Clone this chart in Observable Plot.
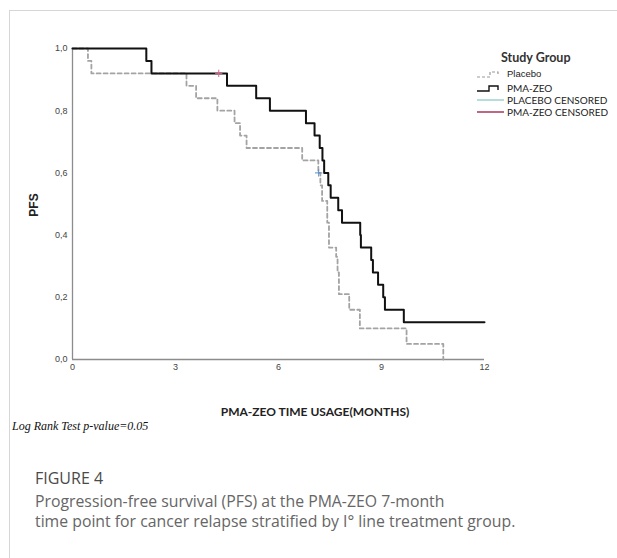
<!DOCTYPE html>
<html>
<head>
<meta charset="utf-8">
<script src="https://cdn.jsdelivr.net/npm/d3@7"></script>
<script src="https://cdn.jsdelivr.net/npm/@observablehq/plot@0.6"></script>
<style>
  html, body { margin: 0; padding: 0; background: #fff; }
  #wrap { position: relative; width: 617px; height: 558px; overflow: hidden; }
  #frame { position: absolute; left: 9px; top: 10px; width: 700px; height: 700px;
           border-left: 1px solid #d6d6d6; border-top: 1px solid #d6d6d6; }
  #chart { position: absolute; left: 0; top: 0; }
  .abs { position: absolute; white-space: nowrap; }
  #legend { position: absolute; left: 476px; top: 50px; width: 140px; height: 72px; font-family: Lato, "Open Sans", sans-serif; color: #222; }
  #legend .title { position: absolute; left: 25px; top: 0; font-weight: 700; font-size: 12.5px; color: #333; white-space: nowrap; }
  #legend .row { position: absolute; left: 0; height: 10px; line-height: 10px; display: flex; align-items: center; font-size: 10px; white-space: nowrap; }
  #legend .row span { line-height: 10px; }
  #legend .row svg { width: 29px; height: 10px; margin-right: 2px; flex: none; }
</style>
</head>
<body>
<div id="wrap">
  <div id="frame"></div>
  <div id="chart"></div>
  <div id="legend"></div>
  <div class="abs" style="left:34px; top:205px; transform: translate(-50%,-50%) rotate(-90deg); font: bold 12px 'Liberation Sans', Arial, sans-serif; color:#222;">PFS</div>
  <div class="abs" style="left:315px; top:404px; transform: translateX(-50%); font: bold 12px Lato, 'Open Sans', sans-serif; color:#222;">PMA-ZEO TIME USAGE(MONTHS)</div>
  <div class="abs" style="left:12px; top:419px; font: italic 12px 'Liberation Serif', 'Times New Roman', serif; color:#111;">Log Rank Test p-value=0.05</div>
  <div class="abs" style="left:35px; top:467px; font: 16px 'Open Sans', sans-serif; color:#4a4a4a;">FIGURE 4</div>
  <div class="abs" style="left:35px; top:491px; font: 15.8px/20px 'Open Sans', sans-serif; color:#666;">Progression-free survival (PFS) at the PMA-ZEO 7-month<br>time point for cancer relapse stratified by I° line treatment group.</div>
</div>
<script>
// ---- data ----
const groups = ["Placebo", "PMA-ZEO"];

const placeboTime = [0, 0.45, 0.55, 3.32, 3.6, 4.22, 4.72, 4.88, 5.07, 6.69, 7.16, 7.22, 7.27, 7.42, 7.47, 7.68, 7.72, 7.76, 8.06, 8.37, 9.73, 10.8];
const placeboSurv = [1, 0.96, 0.92, 0.88, 0.84, 0.80, 0.76, 0.72, 0.68, 0.64, 0.60, 0.56, 0.51, 0.44, 0.36, 0.33, 0.28, 0.21, 0.16, 0.10, 0.05, 0];

const pmaTime = [0, 2.15, 2.3, 4.5, 5.35, 5.75, 6.8, 7.05, 7.2, 7.28, 7.33, 7.45, 7.52, 7.74, 7.85, 8.38, 8.4, 8.7, 8.75, 8.9, 9.05, 9.1, 9.65, 12];
const pmaSurv = [1, 0.96, 0.92, 0.88, 0.84, 0.80, 0.76, 0.72, 0.68, 0.64, 0.60, 0.56, 0.52, 0.48, 0.44, 0.40, 0.36, 0.32, 0.28, 0.24, 0.20, 0.16, 0.12, 0.12];

const placeboCensTime = [7.17];
const placeboCensSurv = [0.60];
const pmaCensTime = [4.26];
const pmaCensSurv = [0.92];

const xTicks = [0, 3, 6, 9, 12];
const yTicks = [0, 0.2, 0.4, 0.6, 0.8, 1.0];

const legendLabels = ["Placebo", "PMA-ZEO", "PLACEBO CENSORED", "PMA-ZEO CENSORED"];

// ---- build tables ----
const placebo = placeboTime.map((t, i) => ({t, s: placeboSurv[i], g: groups[0]}));
const pma = pmaTime.map((t, i) => ({t, s: pmaSurv[i], g: groups[1]}));
const placeboCens = placeboCensTime.map((t, i) => ({t, s: placeboCensSurv[i]}));
const pmaCens = pmaCensTime.map((t, i) => ({t, s: pmaCensSurv[i]}));

const fmt = d => d.toFixed(1).replace(".", ",");

const chart = Plot.plot({
  width: 617,
  height: 400,
  marginLeft: 72,
  marginRight: 133,
  marginTop: 48,
  marginBottom: 41,
  style: {background: "transparent", fontFamily: "'Liberation Sans', Arial, sans-serif", fontSize: "9px", color: "#444"},
  x: {domain: [0, 12]},
  y: {domain: [0, 1]},
  marks: [
    Plot.axisX({ticks: xTicks, tickSize: 0, tickPadding: 4, label: null, fontSize: 9}),
    Plot.axisY({ticks: yTicks, tickSize: 0, tickPadding: 5, tickFormat: fmt, label: null, fontSize: 9}),
    Plot.ruleX([0], {y1: 0, y2: 1, stroke: "#8c8c8c", strokeWidth: 1.3}),
    Plot.ruleY([0], {x1: 0, x2: 12, stroke: "#8c8c8c", strokeWidth: 1.3}),
    Plot.line(placebo, {x: "t", y: "s", curve: "step-after", stroke: "#a3a3a3", strokeWidth: 1.8, strokeDasharray: "4,3"}),
    Plot.line(pma, {x: "t", y: "s", curve: "step-after", stroke: "#111", strokeWidth: 2}),
    Plot.dot(placeboCens, {x: "t", y: "s", symbol: "plus", r: 2.5, stroke: "#5b8fc7", strokeWidth: 1}),
    Plot.dot(pmaCens, {x: "t", y: "s", symbol: "plus", r: 2.5, stroke: "#d9668a", strokeWidth: 1})
  ]
});
document.getElementById("chart").appendChild(chart);

// ---- legend ----
const legendSymbols = [
  '<path d="M1,8 H14 V3 H22 V7" fill="none" stroke="#9a9a9a" stroke-width="1.2" stroke-dasharray="3,2"/>',
  '<path d="M1,8 H13 V3 H22 V7" fill="none" stroke="#111" stroke-width="1.4"/>',
  '<path d="M1,5 H28" stroke="#86c4c4" stroke-width="1.2"/>',
  '<path d="M1,5 H28" stroke="#a2284f" stroke-width="1.4"/>'
];
const rowTops = [19, 33, 45, 57];
const lg = document.getElementById("legend");
lg.innerHTML = '<div class="title">Study Group</div>' + legendLabels.map((lab, i) =>
  `<div class="row" style="top:${rowTops[i]}px"><svg viewBox="0 0 29 10">${legendSymbols[i]}</svg><span${i === 0 ? ' style="font-size:9.5px;font-family:\'Liberation Sans\',Arial,sans-serif"' : ''}>${lab}</span></div>`
).join("");
</script>
</body>
</html>
